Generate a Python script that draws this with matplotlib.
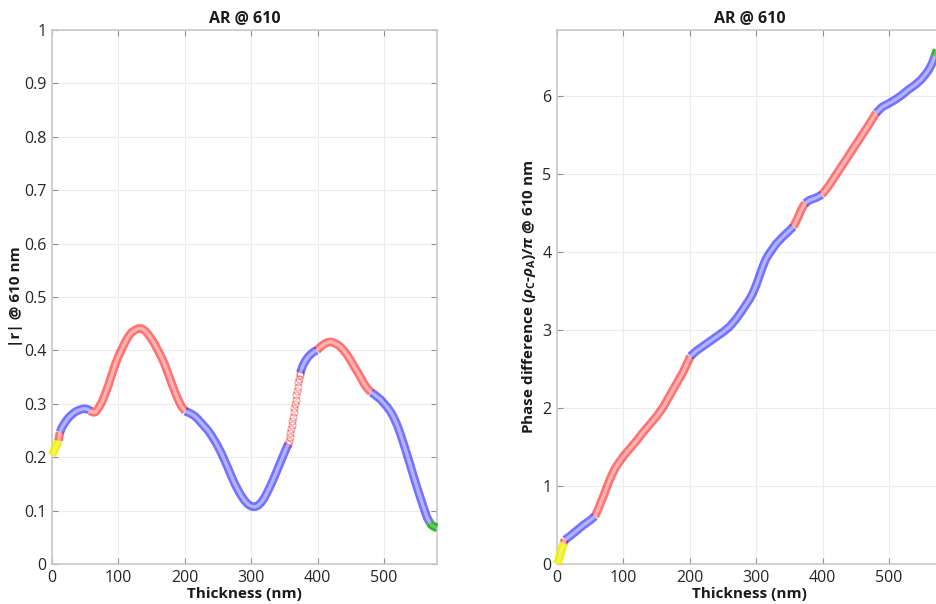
import numpy as np
import matplotlib
matplotlib.use("Agg")
import matplotlib.pyplot as plt

plt.rcParams['font.family'] = ['Open Sans', 'DejaVu Sans']
plt.rcParams['mathtext.fontset'] = 'custom'
plt.rcParams['mathtext.rm'] = 'Open Sans:bold'
plt.rcParams['mathtext.bf'] = 'Open Sans:bold'
plt.rcParams['mathtext.it'] = 'Open Sans:italic:bold'

# ---------------- data ----------------
seg_edges = [0, 10, 12, 57, 201, 356, 374, 399, 481, 569, 580]
seg_colors = ['#f0f000', '#ff0000', '#0000ff', '#ff0000', '#0000ff',
              '#ff0000', '#0000ff', '#ff0000', '#0000ff', '#00a000']
seg_alpha = [0.9, 0.55, 0.55, 0.55, 0.55, 0.55, 0.55, 0.55, 0.55, 0.8]

thick_r = [0, 3, 6, 10, 12, 15, 20, 25, 30, 35, 40, 45, 50, 55, 57,
           60, 63, 66, 70, 75, 80, 85, 90, 95, 100, 105, 110, 115, 120, 125,
           130, 135, 140, 145, 150, 155, 160, 165, 170, 175, 180, 185, 190,
           195, 201, 205, 210, 215, 220, 225, 230, 235, 240, 245, 250, 255,
           260, 265, 270, 275, 280, 285, 290, 295, 300, 305, 310, 315, 320,
           325, 330, 335, 340, 345, 350, 356, 357, 358, 359, 360, 361, 362,
           363, 364, 365, 366, 367, 368, 369, 370, 371, 372, 373, 374, 378,
           382, 386, 390, 395, 399, 402, 406, 410, 415, 420, 425, 430, 435,
           440, 445, 450, 455, 460, 465, 470, 475, 481, 485, 490, 495, 500,
           505, 510, 515, 520, 525, 530, 535, 540, 545, 550, 555, 560, 565,
           569, 571, 574, 577, 580]
r_abs = [0.204, 0.212, 0.220, 0.231, 0.247, 0.256, 0.266, 0.274, 0.280,
         0.285, 0.288, 0.290, 0.291, 0.289, 0.287,
         0.285, 0.284, 0.285, 0.292, 0.303, 0.318, 0.335, 0.354, 0.373,
         0.389, 0.402, 0.415, 0.426, 0.434, 0.438,
         0.441, 0.441, 0.437, 0.430, 0.421, 0.411, 0.399, 0.387, 0.373,
         0.356, 0.339, 0.323, 0.308,
         0.295, 0.286, 0.284, 0.281, 0.277, 0.271, 0.264, 0.257, 0.250,
         0.241, 0.231, 0.220, 0.208,
         0.194, 0.180, 0.165, 0.151, 0.139, 0.128, 0.119, 0.112, 0.108,
         0.107, 0.109, 0.115, 0.124,
         0.136, 0.149, 0.163, 0.178, 0.193, 0.208, 0.225, 0.231, 0.238,
         0.245, 0.252, 0.260, 0.268,
         0.276, 0.284, 0.292, 0.300, 0.308, 0.316, 0.324, 0.332, 0.340,
         0.347, 0.353, 0.358, 0.372,
         0.381, 0.388, 0.393, 0.398, 0.400, 0.404, 0.408, 0.412, 0.415,
         0.416, 0.414, 0.411, 0.406,
         0.399, 0.391, 0.381, 0.370, 0.360, 0.349, 0.338, 0.329, 0.321,
         0.318, 0.313, 0.308, 0.301,
         0.294, 0.285, 0.274, 0.260, 0.243, 0.224, 0.204, 0.184, 0.163,
         0.143, 0.124, 0.105, 0.087,
         0.078, 0.074, 0.071, 0.069, 0.068]

thick_p = [0, 3, 6, 10, 12, 20, 30, 40, 50, 57, 62, 66, 70, 74, 78, 82,
           86, 90, 95, 100, 105, 110, 120, 130, 140, 150, 160, 170, 180,
           190, 201, 210,
           220, 230, 240, 250, 260, 270, 280, 290, 295, 300, 305, 310, 315,
           320, 325, 330, 340, 350, 356, 362, 366, 370, 374, 380, 390, 399,
           410, 420, 430, 440, 450, 460, 470, 481, 490, 500, 510, 520, 530,
           540, 548, 555, 560, 565, 569, 573, 576, 580]
phase = [0.00, 0.07, 0.15, 0.27, 0.31, 0.36, 0.43, 0.50, 0.56, 0.61, 0.70,
         0.79, 0.87, 0.96, 1.05, 1.13,
         1.20, 1.26, 1.32, 1.38, 1.43, 1.48, 1.58, 1.69, 1.79, 1.89, 2.01,
         2.16, 2.31,
         2.46, 2.66, 2.73,
         2.79, 2.85, 2.91, 2.97, 3.04, 3.14, 3.26, 3.39, 3.47, 3.57, 3.69,
         3.81, 3.91,
         3.98, 4.04, 4.10, 4.19, 4.27, 4.32, 4.42, 4.50, 4.57, 4.62, 4.66,
         4.69, 4.73,
         4.85, 4.98, 5.11, 5.24, 5.37, 5.50, 5.63, 5.78, 5.855, 5.90, 5.95,
         6.01, 6.08,
         6.14, 6.20, 6.27, 6.33, 6.41, 6.50, 6.60, 6.69, 6.82]

x_ticks = [0, 100, 200, 300, 400, 500]
r_ticks = [0, 0.1, 0.2, 0.3, 0.4, 0.5, 0.6, 0.7, 0.8, 0.9, 1]
r_ticklabels = ['0', '0.1', '0.2', '0.3', '0.4', '0.5', '0.6', '0.7', '0.8', '0.9', '1']
p_ticks = [0, 1, 2, 3, 4, 5, 6]

# ---------------- drawing ----------------
fig = plt.figure(figsize=(9.36, 6.04), dpi=100)
axL = fig.add_axes([52/936, 40/604, 385/936, 534/604])
axR = fig.add_axes([557/936, 40/604, 385/936, 534/604])


def draw_curve(ax, t, v, sparse=None):
    t = np.asarray(t, float)
    v = np.asarray(v, float)
    for i, c in enumerate(seg_colors):
        a, b = seg_edges[i], seg_edges[i + 1]
        m = (t >= a) & (t <= b)
        if m.sum() < 2:
            continue
        if sparse is not None and i == sparse:
            ax.plot(t[m], v[m], ls='none', marker='o', ms=5.0, mfc='none',
                    mec=c, mew=0.8, alpha=0.4, zorder=3, clip_on=False)
            continue
        ax.plot(t[m], v[m], color=c, lw=6.2, alpha=seg_alpha[i],
                solid_capstyle='butt', solid_joinstyle='round', zorder=3,
                clip_on=False)
        ax.plot(t[m], v[m], color='white', lw=2.4,
                alpha=0.45 if seg_alpha[i] < 0.7 else 0.25,
                solid_capstyle='butt', solid_joinstyle='round', zorder=4,
                clip_on=False)


draw_curve(axL, thick_r, r_abs, sparse=5)
draw_curve(axR, thick_p, phase)

tick_col = '#262626'
for ax in (axL, axR):
    ax.set_xlim(0, 580)
    ax.set_xticks(x_ticks)
    ax.grid(True, color='#ececec', lw=0.8)
    ax.set_axisbelow(True)
    for s in ax.spines.values():
        s.set_color('#c8c8c8')
        s.set_linewidth(1.2)
    ax.tick_params(direction='in', length=4, width=0.8, color='#909090',
                   labelsize=11.5, labelcolor=tick_col, top=True, right=True,
                   pad=4)
    ax.set_title('AR @ 610', fontsize=11.5, fontweight='bold', color='#1a1a1a', pad=6)
    ax.set_xlabel('Thickness (nm)', fontsize=11, fontweight='bold',
                  color='#1a1a1a', labelpad=1)

axL.set_ylim(0, 1)
axL.set_yticks(r_ticks)
axL.set_yticklabels(r_ticklabels)
axL.set_ylabel('|r| @ 610 nm', fontsize=11, fontweight='bold', color='#1a1a1a', labelpad=1)

axR.set_ylim(0, 6.84)
axR.set_yticks(p_ticks)
axR.set_ylabel(r'Phase difference ($\rho_\mathbf{C}$-$\rho_\mathbf{A}$)/$\pi$ @ 610 nm',
               fontsize=11, fontweight='bold', color='#1a1a1a', labelpad=3)

fig.savefig('out.png', dpi=100, facecolor='white')
